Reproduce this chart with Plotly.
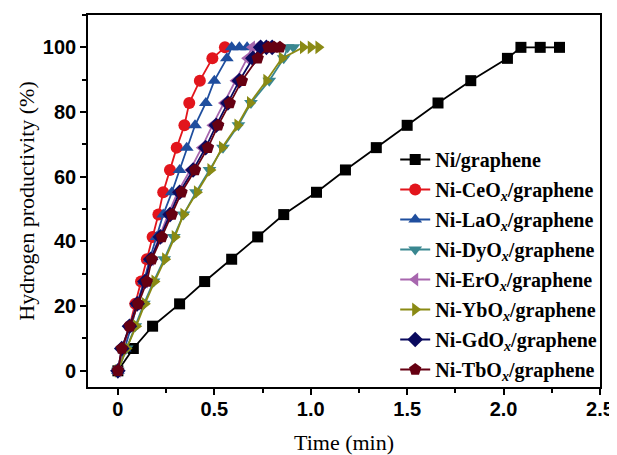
import plotly.graph_objects as go

# ---- data ----
y_std = [0, 6.9, 13.8, 20.7, 27.6, 34.5, 41.4, 48.3, 55.2, 62.1, 69.0, 75.9, 82.8, 89.7, 96.6, 100]

ni_x = [0, 0.08, 0.18, 0.32, 0.45, 0.59, 0.725, 0.86, 1.03, 1.18, 1.34, 1.50, 1.66, 1.83, 2.02, 2.09, 2.19, 2.29]
ni_y = y_std + [100, 100]

ce_x = [0, 0.03, 0.06, 0.09, 0.12, 0.15, 0.18, 0.21, 0.235, 0.27, 0.305, 0.345, 0.37, 0.425, 0.49, 0.555]
ce_y = y_std

la_x = [0, 0.035, 0.07, 0.10, 0.135, 0.165, 0.20, 0.235, 0.28, 0.32, 0.357, 0.40, 0.456, 0.50, 0.565, 0.59, 0.63, 0.67]
la_y = y_std + [100, 100]

dy_x = [0, 0.045, 0.09, 0.135, 0.185, 0.24, 0.29, 0.34, 0.405, 0.475, 0.545, 0.625, 0.69, 0.785, 0.86, 0.88, 0.91]
dy_y = y_std + [100]

er_x = [0, 0.025, 0.06, 0.10, 0.14, 0.17, 0.215, 0.26, 0.31, 0.375, 0.435, 0.49, 0.55, 0.61, 0.67, 0.695, 0.72]
er_y = y_std + [100]

yb_x = [0, 0.045, 0.095, 0.14, 0.19, 0.245, 0.295, 0.34, 0.41, 0.48, 0.54, 0.62, 0.685, 0.77, 0.85, 0.96, 1.0, 1.04]
yb_y = y_std + [100, 100]

gd_x = [0, 0.02, 0.06, 0.10, 0.14, 0.17, 0.22, 0.27, 0.32, 0.39, 0.455, 0.51, 0.57, 0.63, 0.70, 0.74, 0.77, 0.80]
gd_y = y_std + [100, 100]

tb_x = [0, 0.02, 0.062, 0.104, 0.15, 0.176, 0.228, 0.28, 0.33, 0.40, 0.467, 0.52, 0.58, 0.643, 0.725, 0.78, 0.81, 0.84]
tb_y = y_std + [100, 100]

names = [
    "Ni/graphene",
    "Ni-CeO<sub><i>x</i></sub>/graphene",
    "Ni-LaO<sub><i>x</i></sub>/graphene",
    "Ni-DyO<sub><i>x</i></sub>/graphene",
    "Ni-ErO<sub><i>x</i></sub>/graphene",
    "Ni-YbO<sub><i>x</i></sub>/graphene",
    "Ni-GdO<sub><i>x</i></sub>/graphene",
    "Ni-TbO<sub><i>x</i></sub>/graphene",
]

x_title = "Time (min)"
y_title = "Hydrogen productivity (%)"
x_tickvals = [0, 0.5, 1.0, 1.5, 2.0, 2.5]
x_ticktext = ["0", "0.5", "1.0", "1.5", "2.0", "2.5"]
y_tickvals = [0, 20, 40, 60, 80, 100]
y_ticktext = ["0", "20", "40", "60", "80", "100"]

# ---- styles ----
series = [
    (ni_x, ni_y, "#000000", "square", 11),
    (ce_x, ce_y, "#E2151C", "circle", 12),
    (la_x, la_y, "#1F4E9E", "triangle-up", 12),
    (dy_x, dy_y, "#3A8790", "triangle-down", 12),
    (er_x, er_y, "#A766AE", "triangle-left", 12),
    (yb_x, yb_y, "#8A8A14", "triangle-right", 12),
    (gd_x, gd_y, "#0A0A5E", "diamond", 12),
    (tb_x, tb_y, "#660012", "pentagon", 13),
]

fig = go.Figure()
for i, ((xs, ys, col, sym, sz), nm) in enumerate(zip(series, names)):
    fig.add_trace(go.Scatter(
        x=xs, y=ys, mode="lines+markers", name=nm, legendgroup=f"g{i}",
        line=dict(color=col, width=1.8),
        marker=dict(symbol=sym, size=sz, color=col, line=dict(width=0)),
    ))

axis_common = dict(
    showline=True, mirror=True, linecolor="black", linewidth=1.6,
    ticks="outside", ticklen=6, tickwidth=1.6, tickcolor="black",
    showgrid=False, zeroline=False, automargin=False,
    tickfont=dict(family="Liberation Sans", size=20, color="black", weight="bold"),
)

# page body has an 8px margin, so the figure is sized to fit the 617x455 window
fig.update_layout(
    width=609, height=447,
    margin=dict(l=80, r=17, t=7, b=68),
    paper_bgcolor="white", plot_bgcolor="white",
    xaxis=dict(
        range=[-0.155, 2.5], tickvals=x_tickvals, ticktext=x_ticktext,
        minor=dict(ticks="outside", ticklen=4, tickwidth=1.6, tickcolor="black", dtick=0.25, tick0=0),
        ticklabelstandoff=-3,
        **axis_common,
    ),
    yaxis=dict(
        range=[-5, 110], tickvals=y_tickvals, ticktext=y_ticktext,
        minor=dict(ticks="outside", ticklen=4, tickwidth=1.6, tickcolor="black", dtick=10, tick0=0),
        title=dict(text=y_title, font=dict(family="Liberation Serif", size=22, color="black"), standoff=2),
        **axis_common,
    ),
    legend=dict(
        x=0.6, y=0.664, xanchor="left", yanchor="top",
        bgcolor="rgba(0,0,0,0)",
        font=dict(family="Liberation Serif", size=20, color="black", weight="bold"),
        tracegroupgap=1, itemwidth=30, traceorder="grouped",
    ),
    showlegend=True,
    annotations=[dict(
        text=x_title, xref="paper", yref="paper", x=0.5, y=-0.148,
        xanchor="center", yanchor="middle", showarrow=False,
        font=dict(family="Liberation Serif", size=22, color="black"),
    )],
)

fig.write_html("out.html")
